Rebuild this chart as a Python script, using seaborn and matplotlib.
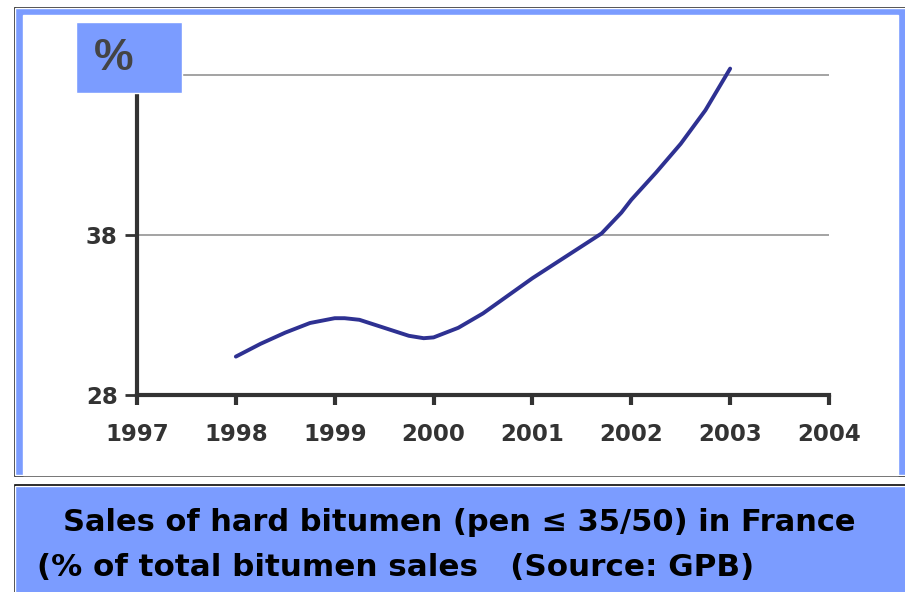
import pandas as pd
import matplotlib
matplotlib.use("Agg")
import matplotlib.pyplot as plt
from matplotlib.patches import Rectangle
import seaborn as sns

# share of hard bitumen in total sales (roughly quarterly)
years = [1998.0, 1998.25, 1998.5, 1998.75, 1999.0, 1999.1, 1999.25, 1999.5,
         1999.75, 1999.9, 2000.0, 2000.25, 2000.5, 2000.75, 2001.0, 2001.25,
         2001.5, 2001.7, 2001.9, 2002.0, 2002.25, 2002.5, 2002.75, 2003.0]
share = [30.4, 31.2, 31.9, 32.5, 32.8, 32.8, 32.7, 32.2,
         31.7, 31.55, 31.6, 32.2, 33.1, 34.2, 35.3, 36.3,
         37.3, 38.1, 39.4, 40.2, 41.9, 43.7, 45.8, 48.4]
x_ticks = [1997, 1998, 1999, 2000, 2001, 2002, 2003, 2004]
y_ticks = [28, 38, 48]
y_labels = ["28", "38", ""]   # 48 sits under the "%" box
title_1 = "Sales of hard bitumen (pen \u2264 35/50) in France"
title_2 = "(% of total bitumen sales   (Source: GPB)"

df = pd.DataFrame({"year": years, "share": share})

sns.set_style("white")
plt.rcParams["font.family"] = ["DejaVu Sans"]

W, H = 905, 592
blue = "#7B9CFF"
fig = plt.figure(figsize=(W / 100, H / 100), dpi=100)
fig.patch.set_facecolor("white")

def px_rect(x0, y0, x1, y1, **kw):
    # rectangle given in pixel coords (origin top-left)
    return Rectangle((x0 / W, 1 - y1 / H), (x1 - x0) / W, (y1 - y0) / H,
                     transform=fig.transFigure, **kw)

# top panel frame
fig.patches.append(px_rect(13, 6, 915, 477, facecolor="black", zorder=-10))
fig.patches.append(px_rect(15, 8, 915, 475, facecolor=blue, zorder=-9))
fig.patches.append(px_rect(23, 15, 898, 475, facecolor="white", zorder=-8))
# bottom caption panel
fig.patches.append(px_rect(13, 483, 915, 600, facecolor="black", zorder=-10))
fig.patches.append(px_rect(15, 485.5, 915, 600, facecolor=blue, zorder=-9))

ax = fig.add_axes([137 / W, 1 - 395 / H, (829 - 137) / W, (395 - 59) / H])
ax.set_facecolor("none")
sns.lineplot(data=df, x="year", y="share", ax=ax, color="#2E3192",
             linewidth=2.8, solid_capstyle="round")

ax.set_xlim(1997, 2004)
ax.set_ylim(28, 49)
ax.set_xticks(x_ticks)
ax.set_yticks(y_ticks)
ax.set_yticklabels(y_labels)
ax.set_xlabel("")
ax.set_ylabel("")
ax.yaxis.grid(True, color="#8a8a8a", linewidth=1.1)
ax.set_axisbelow(True)

for side in ["top", "right"]:
    ax.spines[side].set_visible(False)
for side in ["left", "bottom"]:
    ax.spines[side].set_color("#333333")
    ax.spines[side].set_linewidth(3)

ax.tick_params(axis="x", length=7, width=3, color="#333333", direction="out",
               pad=13, bottom=True)
ax.tick_params(axis="y", length=9, width=2, color="#333333", direction="out",
               pad=5, left=True)
for lab in ax.get_xticklabels() + ax.get_yticklabels():
    lab.set_fontsize(16.5)
    lab.set_fontweight("bold")
    lab.set_color("#333333")

# "%" unit box covering the top of the y axis
fig.patches.append(px_rect(76, 22, 182, 93, facecolor=blue, zorder=5))
fig.text(114 / W, 1 - 59 / H, "%", fontsize=32, fontweight="bold",
         family=["Liberation Sans", "DejaVu Sans"],
         color="#444444", ha="center", va="center", zorder=6)

fig.text(63 / W, 1 - 531 / H, title_1, fontsize=22, fontweight="bold",
         color="black", ha="left", va="baseline")
fig.text(37 / W, 1 - 576 / H, title_2, fontsize=22.3, fontweight="bold",
         color="black", ha="left", va="baseline")

fig.savefig("out.png", dpi=100)
